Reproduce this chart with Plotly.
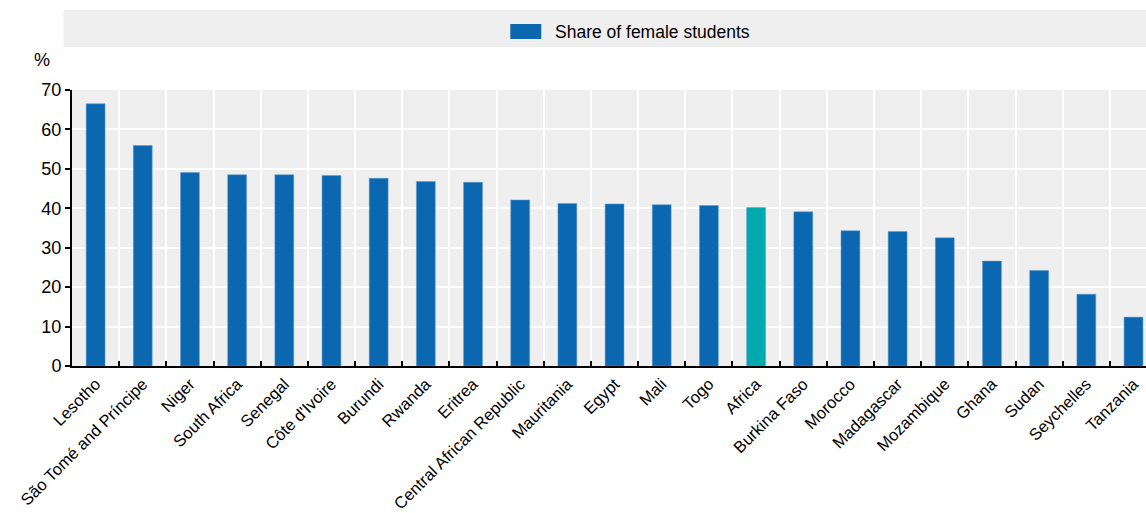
import plotly.graph_objects as go

countries = ["Lesotho", "São Tomé and Príncipe", "Niger", "South Africa", "Senegal",
             "Côte d'Ivoire", "Burundi", "Rwanda", "Eritrea", "Central African Republic",
             "Mauritania", "Egypt", "Mali", "Togo", "Africa", "Burkina Faso", "Morocco",
             "Madagascar", "Mozambique", "Ghana", "Sudan", "Seychelles", "Tanzania"]
share_female = [66.5, 55.9, 49.1, 48.5, 48.5, 48.3, 47.6, 46.8, 46.6, 42.1,
                41.2, 41.1, 40.9, 40.7, 40.2, 39.1, 34.3, 34.1, 32.5, 26.6,
                24.2, 18.2, 12.4]
y_ticks = [0, 10, 20, 30, 40, 50, 60, 70]
legend_label = "Share of female students"

BLUE = "#0b67b0"
TEAL = "#00a9ae"
FONT = "Liberation Sans Narrow, Arial Narrow, Liberation Sans, Arial, sans-serif"

colors = [TEAL if c == "Africa" else BLUE for c in countries]

W, H = 1146, 513
plot_left, plot_right, plot_top, plot_bottom = 71.5, 1146, 90, 366
L = plot_left
R = W - plot_right
T = plot_top
B = H - plot_bottom
pw, ph = plot_right - plot_left, plot_bottom - plot_top

# the reference crops the chart on the right: category width ~47.2px
cat_w = 47.2
x_max = -0.5 + pw / cat_w

def px_x(x):
    return (x - plot_left) / pw

def px_y(y):
    return (plot_bottom - y) / ph

fig = go.Figure()
fig.add_trace(go.Bar(
    x=countries, y=share_female,
    marker=dict(color=colors, line=dict(color="#5a9bd0", width=0.5)),
    width=0.40, showlegend=False, name=legend_label,
))

fig.update_layout(
    width=W, height=H,
    margin=dict(l=L, r=R, t=T, b=B, autoexpand=False),
    paper_bgcolor="white",
    plot_bgcolor="#efefef",
    font=dict(family=FONT, size=16, color="black"),
)
fig.update_xaxes(
    type="category", tickangle=-45, tickson="boundaries",
    range=[-0.5, x_max], automargin=False,
    ticks="inside", ticklen=5, tickcolor="black", tickwidth=1.5,
    showline=True, linecolor="black", linewidth=2,
    showgrid=True, gridcolor="white", gridwidth=2,
    tickfont=dict(family=FONT, size=16.5, color="black"),
)
fig.update_yaxes(
    range=[0, 70], tickvals=y_ticks, automargin=False,
    ticks="outside", ticklen=5, tickcolor="black", tickwidth=1.5,
    showline=True, linecolor="black", linewidth=2,
    showgrid=True, gridcolor="white", gridwidth=2, zeroline=False,
    tickfont=dict(family=FONT, size=18, color="black"),
)

# legend band
fig.add_shape(type="rect", xref="paper", yref="paper",
              x0=px_x(63), x1=1, y0=px_y(47), y1=px_y(10),
              fillcolor="#efefef", line=dict(width=0), layer="below")
fig.add_shape(type="rect", xref="paper", yref="paper",
              x0=px_x(510), x1=px_x(541), y0=px_y(39), y1=px_y(24),
              fillcolor=BLUE, line=dict(width=0))
fig.add_annotation(xref="paper", yref="paper", x=px_x(553), y=px_y(31.5),
                   text=legend_label, showarrow=False, xanchor="left", yanchor="middle",
                   font=dict(family=FONT, size=17.5, color="black"))
fig.add_annotation(xref="paper", yref="paper", x=px_x(41), y=px_y(60),
                   text="%", showarrow=False, xanchor="center", yanchor="middle",
                   font=dict(family=FONT, size=18, color="black"))

fig.write_html(
    "out.html",
    config={"displayModeBar": False},
    post_script="document.body.style.margin='0';document.body.style.overflow='hidden';",
)
